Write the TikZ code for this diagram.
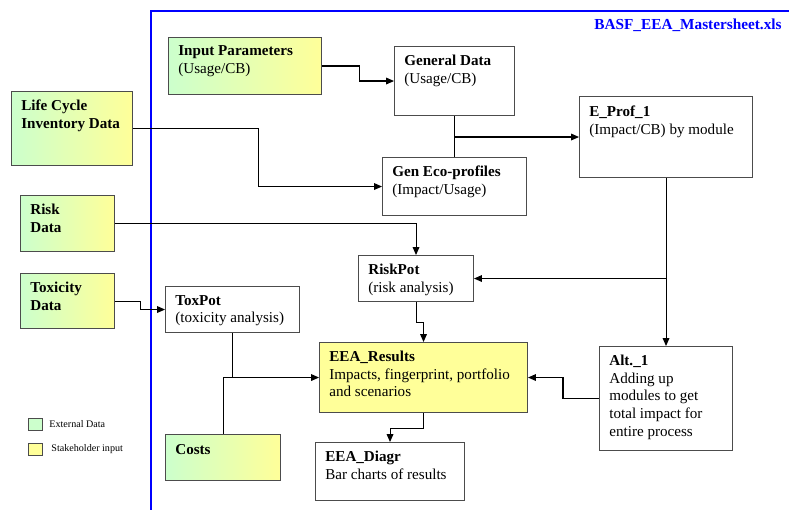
\documentclass[tikz,border=0pt]{standalone}
\usepackage{fontspec}
\setmainfont{Liberation Serif}
\usetikzlibrary{positioning, arrows.meta}
\definecolor{extgreen}{RGB}{204,255,204}
\definecolor{stkyellow}{RGB}{255,255,153}
\definecolor{sheetblue}{RGB}{0,0,255}

\tikzset{
  block/.style 2 args={draw=black!70, line width=0.6pt, anchor=north west, inner sep=0pt,
    minimum width=#1*0.02cm, minimum height=#2*0.02cm},
  extblock/.style={left color=extgreen, right color=stkyellow},
  txt/.style={align=left, inner sep=0pt, font=\fontsize{8.6}{10}\selectfont},
  legtxt/.style={inner sep=0pt, font=\fontsize{5.75}{7}\selectfont},
  link/.style={line width=0.6pt},
  arr/.style={link, -{Triangle[length=4.5pt,width=3.8pt]}},
}

\begin{document}
\begin{tikzpicture}[x=0.02cm, y=-0.02cm]
    \useasboundingbox (0,0) rectangle (789,510);
    % sheet frame
    \draw [sheetblue, line width=1.2pt] (151,510) -- (151,11) -- (789,11);
    \node [anchor=base east, inner sep=0pt, text=sheetblue, font=\bfseries\fontsize{8.7}{10}\selectfont] (sheet) at (782,30) {BASF\_EEA\_Mastersheet.xls};

    % boxes
    \node [block={153}{57}, extblock] (input) at (168,37) {};
    \node [txt, below right=0.17cm and 0.2cm of input.north west] (inputtext) {\textbf{Input Parameters}\\(Usage/CB)};
    \node [block={120}{69}] (gendata) at (394,46) {};
    \node [txt, below right=0.18cm and 0.2cm of gendata.north west] (gendatatext) {\textbf{General Data}\\(Usage/CB)};
    \node [block={121}{74}, extblock] (lci) at (11,91) {};
    \node [txt, below right=0.18cm and 0.2cm of lci.north west] (lcitext) {\textbf{Life Cycle}\\\textbf{Inventory Data}};
    \node [block={144}{58}] (geneco) at (382,157) {};
    \node [txt, below right=0.18cm and 0.2cm of geneco.north west] (genecotext) {\textbf{Gen Eco-profiles}\\(Impact/Usage)};
    \node [block={173}{81}] (eprof) at (579,96) {};
    \node [txt, below right=0.2cm and 0.2cm of eprof.north west] (eproftext) {\textbf{E\_Prof\_1}\\(Impact/CB) by module};
    \node [block={94}{56}, extblock] (riskdata) at (20,195) {};
    \node [txt, below right=0.18cm and 0.2cm of riskdata.north west] (riskdatatext) {\textbf{Risk}\\\textbf{Data}};
    \node [block={115}{46}] (riskpot) at (358,255) {};
    \node [txt, below right=0.18cm and 0.2cm of riskpot.north west] (riskpottext) {\textbf{RiskPot}\\(risk analysis)};
    \node [block={94}{55}, extblock, below=0.42cm of riskdata] (toxdata) {};
    \node [txt, below right=0.18cm and 0.2cm of toxdata.north west] (toxdatatext) {\textbf{Toxicity}\\\textbf{Data}};
    \node [block={134}{46}] (toxpot) at (165,286) {};
    \node [txt, below right=0.18cm and 0.2cm of toxpot.north west] (toxpottext) {\textbf{ToxPot}\\(toxicity analysis)};
    \node [block={208}{70}, fill=stkyellow] (results) at (319,342) {};
    \node [txt, below right=0.18cm and 0.2cm of results.north west] (resultstext) {\textbf{EEA\_Results}\\Impacts, fingerprint, portfolio\\and scenarios};
    \node [block={133}{104}] (alt) at (599,346) {};
    \node [txt, below right=0.18cm and 0.2cm of alt.north west] (alttext) {\textbf{Alt.\_1}\\Adding up\\modules to get\\total impact for\\entire process};
    \node [block={115}{46}, extblock] (costs) at (165,434) {};
    \node [txt, below right=0.2cm and 0.2cm of costs.north west] (coststext) {\textbf{Costs}};
    \node [block={149}{58}] (diagr) at (315,442) {};
    \node [txt, below right=0.18cm and 0.2cm of diagr.north west] (diagrtext) {\textbf{EEA\_Diagr}\\Bar charts of results};

    % legend
    \node [block={14}{12}, fill=extgreen] (legext) at (28,418) {};
    \node [legtxt, right=0.12cm of legext] (legexttext) {External Data};
    \node [block={14}{12}, fill=stkyellow] (legstk) at (28,443) {};
    \node [legtxt, right=0.16cm of legstk] (legstktext) {Stakeholder input};

    % connectors
    \draw [arr] (input.east) -- ++(37,0) |- (gendata.west);
    \draw [arr] (lci.east) -- ++(125,0) |- (geneco.west);
    \draw [link] (gendata.south) -- (geneco.north);
    \draw [arr] (gendata.south |- eprof.west) -- (eprof.west);
    \draw [arr] (riskdata.east) -| (riskpot.north);
    \draw [arr] (eprof.south) -- (alt.north);
    \draw [arr] (eprof.south |- riskpot.east) -- (riskpot.east);
    \draw [arr] (toxdata.east) -- ++(25,0) |- (toxpot.west);
    \draw [link] (toxpot.south) -- (toxpot.south |- results.west);
    \draw [arr] (costs.north) |- (results.west);
    \draw [arr] (riskpot.south) -- ++(0,20) -| (results.north);
    \draw [arr] (alt.west) -- ++(-36,0) |- (results.east);
    \draw [arr] (results.south) -- ++(0,15) -| (diagr.north);
\end{tikzpicture}
\end{document}
